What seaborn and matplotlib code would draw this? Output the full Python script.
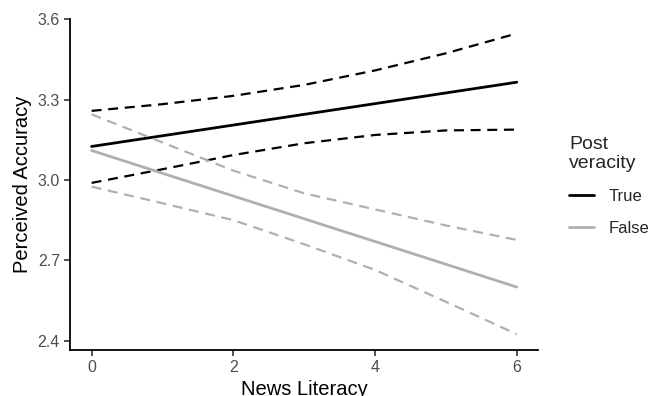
import pandas as pd
from matplotlib import pyplot as plt
from matplotlib.lines import Line2D
import seaborn as sns

news_literacy = [0, 1, 2, 3, 4, 5, 6]

true_fit = [3.125, 3.165, 3.205, 3.245, 3.285, 3.325, 3.365]
true_upper = [3.258, 3.283, 3.314, 3.355, 3.409, 3.473, 3.547]
true_lower = [2.989, 3.040, 3.093, 3.137, 3.168, 3.185, 3.188]

false_fit = [3.110, 3.025, 2.940, 2.855, 2.770, 2.685, 2.600]
false_upper = [3.245, 3.140, 3.035, 2.950, 2.890, 2.830, 2.776]
false_lower = [2.975, 2.913, 2.850, 2.760, 2.664, 2.545, 2.424]

veracity_labels = ["True", "False"]
y_ticks = [2.4, 2.7, 3.0, 3.3, 3.6]
x_ticks = [0, 2, 4, 6]

rows = []
for lab, fit, up, lo in [("True", true_fit, true_upper, true_lower),
                         ("False", false_fit, false_upper, false_lower)]:
    for kind, vals in [("fit", fit), ("upper", up), ("lower", lo)]:
        for x, v in zip(news_literacy, vals):
            rows.append({"news_literacy": x, "accuracy": v, "veracity": lab, "kind": kind})
df = pd.DataFrame(rows)

sns.set_theme(style="ticks")
plt.rcParams["font.family"] = ["Liberation Sans", "DejaVu Sans"]

colors = {"True": "black", "False": "#b0b0b0"}

fig = plt.figure(figsize=(6.53, 3.96), dpi=100)
ax = fig.add_axes([0.1077, 0.1162, 0.824 - 0.1077, 0.9513 - 0.1162])

for lab in veracity_labels:
    sub = df[df["veracity"] == lab]
    sns.lineplot(ax=ax, data=sub[sub["kind"] == "fit"], x="news_literacy", y="accuracy",
                 color=colors[lab], linewidth=2.0, legend=False)
    for kind in ["upper", "lower"]:
        line = sns.lineplot(ax=ax, data=sub[sub["kind"] == kind], x="news_literacy",
                            y="accuracy", color=colors[lab], linewidth=1.6, legend=False)
        line.lines[-1].set_dashes((4.5, 3))

ax.set_xlim(-0.3, 6.3)
ax.set_ylim(2.365, 3.6)
ax.set_xticks(x_ticks)
ax.set_xticklabels([str(t) for t in x_ticks])
ax.set_yticks(y_ticks)
ax.set_yticklabels([f"{t:.1f}" for t in y_ticks])
ax.tick_params(colors="#222222", labelcolor="#4d4d4d", labelsize=11.5, length=4, width=1.1)
ax.set_xlabel("News Literacy", fontsize=14.5, color="black", labelpad=3)
ax.set_ylabel("Perceived Accuracy", fontsize=14.5, color="black", labelpad=4)
for s in ["top", "right"]:
    ax.spines[s].set_visible(False)
for s in ["left", "bottom"]:
    ax.spines[s].set_linewidth(1.3)
    ax.spines[s].set_color("black")

handles = [Line2D([0], [0], color=colors[lab], linewidth=2.0) for lab in veracity_labels]
leg = fig.legend(handles, veracity_labels, title="Post\nveracity", loc="upper left",
                 bbox_to_anchor=(0.849, 0.695), frameon=False, fontsize=12,
                 title_fontsize=14, handlelength=1.5, handletextpad=0.85,
                 labelspacing=1.0, alignment="left")

fig.savefig("out.png", dpi=100)
